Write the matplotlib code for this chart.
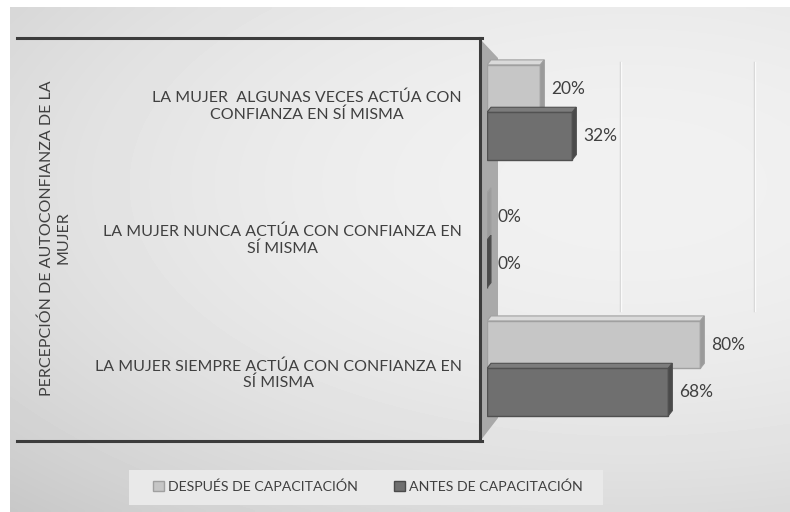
import numpy as np
import matplotlib
matplotlib.use("Agg")
import matplotlib.pyplot as plt
from matplotlib.patches import Polygon, Rectangle, Patch
from matplotlib.lines import Line2D

plt.rcParams['font.family'] = ['Lato', 'DejaVu Sans']

# data
categories = [
    "LA MUJER  ALGUNAS VECES ACTÚA CON\nCONFIANZA EN SÍ MISMA",
    "LA MUJER NUNCA ACTÚA CON CONFIANZA EN\nSÍ MISMA",
    "LA MUJER SIEMPRE ACTÚA CON CONFIANZA EN\nSÍ MISMA",
]
despues = [20, 0, 80]
antes = [32, 0, 68]
series_names = ["DESPUÉS DE CAPACITACIÓN", "ANTES DE CAPACITACIÓN"]
axis_title = "PERCEPCIÓN DE AUTOCONFIANZA DE LA\nMUJER"

W, H = 790, 512
TEXT = "#404040"
FS = 11.5


def fx(x):
    return x / W


def fy(y):
    return 1 - y / H


fig = plt.figure(figsize=(W / 100, H / 100), dpi=100)

# background gradient of the chart area
bg = fig.add_axes([0, 0, 1, 1], zorder=-10)
xs = np.linspace(0, 1, 200)
ys = np.linspace(0, 1, 130)
X, Y = np.meshgrid(xs, ys)
B = 0.945 - 0.12 * (X - 0.8) ** 2 - 0.2 * (Y - 0.35) ** 2
bg.imshow(B, cmap="gray", vmin=0, vmax=1, extent=[fx(10), 1, fy(H), fy(7)],
          aspect="auto", interpolation="bilinear")
bg.set_xlim(0, 1)
bg.set_ylim(0, 1)
bg.axis("off")

# side wall of the 3d plot
wall = Polygon([(fx(481), fy(40)), (fx(498), fy(58)), (fx(498), fy(418)),
                (fx(481), fy(440))], closed=True, facecolor="#a9a9a9",
               edgecolor="none", transform=fig.transFigure, zorder=-5)
fig.patches.append(wall)

# frame around category labels
for seg in [((17, 38), (482, 38)), ((17, 441), (482, 441)), ((480, 38), (480, 441))]:
    (x0, y0), (x1, y1) = seg
    fig.add_artist(Line2D([fx(x0), fx(x1)], [fy(y0), fy(y1)], color="#3c3c3c",
                          lw=2.2, transform=fig.transFigure, zorder=-4))

# bars
ax = fig.add_axes([fx(487), fy(440), fx(280), 402 / H])
ax.patch.set_alpha(0)
ax.set_xlim(0, 105)
ax.set_ylim(2.56, -0.58)
for s in ax.spines.values():
    s.set_visible(False)
ax.set_xticks([])
ax.set_yticks([])

for g in [50, 100]:
    ax.axvline(g, ymin=0.32, ymax=0.94, color="#d2d2d2", lw=1, zorder=0)
    ax.axvline(g + 0.4, ymin=0.32, ymax=0.94, color="#fafafa", lw=1, zorder=0)

h = 0.37
dx = 1.5
dy = 5 / 128
styles = [
    ("#c6c6c6", "#dadada", "#9a9a9a", "#a0a0a0"),
    ("#6f6f6f", "#7c7c7c", "#4a4a4a", "#505050"),
]
pos = np.arange(len(categories))
for k, vals in enumerate([despues, antes]):
    front, top, side, edge = styles[k]
    centers = pos - h / 2 if k == 0 else pos + h / 2
    for c, v in zip(centers, vals):
        y0, y1 = c - h / 2, c + h / 2
        ax.barh(c, v, height=h, color=front, edgecolor=edge, lw=1, zorder=3)
        ax.add_patch(Polygon([(0, y0), (v, y0), (v + dx, y0 - dy), (dx, y0 - dy)],
                             closed=True, facecolor=top, edgecolor=edge, lw=0.8, zorder=3))
        ax.add_patch(Polygon([(v, y0), (v + dx, y0 - dy), (v + dx, y1 - dy), (v, y1)],
                             closed=True, facecolor=side, edgecolor=edge, lw=0.8, zorder=3))
        ax.annotate(f"{v}%", xy=(v + dx, c), xytext=(5, 0), textcoords="offset points",
                    ha="left", va="center", fontsize=12.5, color=TEXT)

# category labels, spread a little wider than the bar groups
mid = ax.transData.transform((0, 1))[1]
for c, lab in zip(pos, categories):
    yp = ax.transData.transform((0, c))[1]
    yp = mid + (yp - mid) * 1.05
    fig.text(fx(462), yp / H, lab, ha="right",
             va="center", multialignment="center", fontsize=FS, color=TEXT,
             linespacing=1.2)

fig.text(fx(55), fy(238), axis_title, rotation=90, ha="center", va="center",
         multialignment="center", fontsize=FS, color=TEXT, linespacing=1.25)

# legend
fig.patches.append(Rectangle((fx(129), fy(505)), fx(474), 35 / H, facecolor="#e9e9e9",
                             edgecolor="none", transform=fig.transFigure))
handles = [Patch(facecolor=styles[0][0], edgecolor=styles[0][3]),
           Patch(facecolor=styles[1][0], edgecolor=styles[1][2])]
fig.legend(handles, series_names, loc="center", bbox_to_anchor=(fx(368), fy(487)),
           ncol=2, frameon=False, fontsize=10.2, labelcolor=TEXT,
           handlelength=0.75, handleheight=0.75, handletextpad=0.3, columnspacing=2.6)

fig.savefig("out.png", dpi=100)
